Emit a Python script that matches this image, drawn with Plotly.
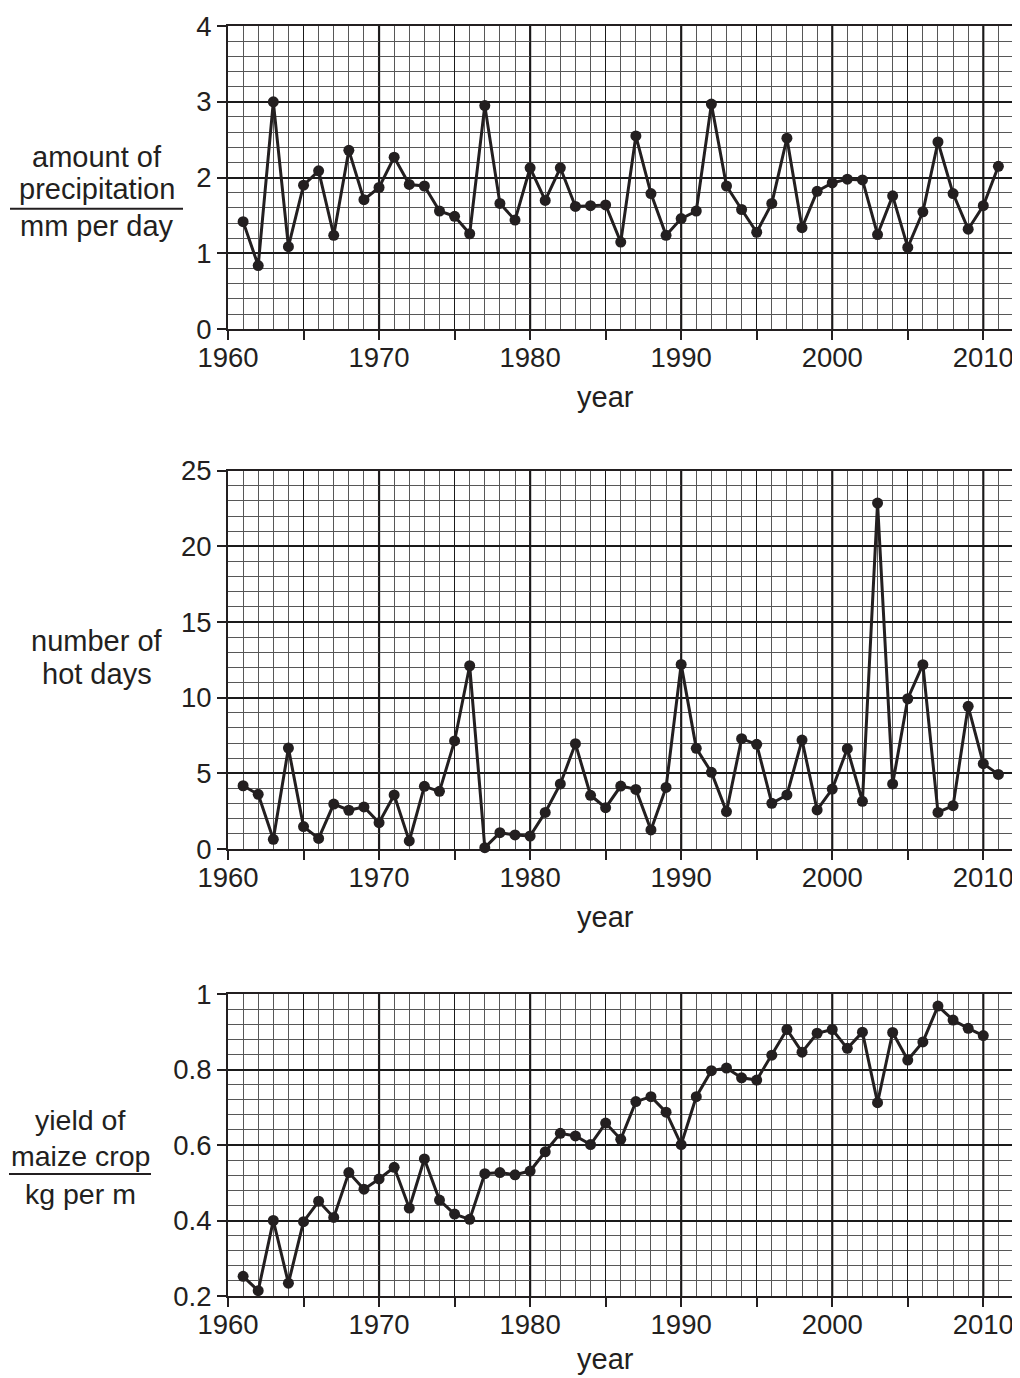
import plotly.graph_objects as go

years = list(range(1961, 2012))
precip = [1.42, 0.84, 3.00, 1.09, 1.90, 2.09, 1.24, 2.36, 1.71, 1.87,
          2.27, 1.91, 1.89, 1.56, 1.49, 1.26, 2.95, 1.66, 1.44, 2.13,
          1.70, 2.13, 1.62, 1.63, 1.64, 1.15, 2.55, 1.79, 1.24, 1.46,
          1.56, 2.97, 1.89, 1.58, 1.28, 1.66, 2.52, 1.34, 1.82, 1.93,
          1.98, 1.97, 1.25, 1.76, 1.08, 1.55, 2.47, 1.79, 1.32, 1.63, 2.15]
hot_days = [4.18, 3.61, 0.64, 6.67, 1.48, 0.70, 2.97, 2.56, 2.78, 1.74,
            3.57, 0.53, 4.14, 3.81, 7.14, 12.11, 0.09, 1.08, 0.93, 0.86,
            2.42, 4.30, 6.96, 3.55, 2.73, 4.16, 3.94, 1.26, 4.07, 12.20,
            6.65, 5.07, 2.47, 7.29, 6.92, 3.02, 3.57, 7.20, 2.58, 3.96,
            6.63, 3.15, 22.86, 4.30, 9.93, 12.18, 2.42, 2.86, 9.43, 5.64, 4.93]
years_yield = list(range(1961, 2011))
maize_yield = [0.252, 0.214, 0.400, 0.234, 0.397, 0.451, 0.408, 0.527, 0.483, 0.510,
               0.541, 0.433, 0.563, 0.454, 0.417, 0.403, 0.524, 0.527, 0.521, 0.531,
               0.582, 0.631, 0.624, 0.601, 0.658, 0.615, 0.715, 0.728, 0.687, 0.601,
               0.728, 0.797, 0.804, 0.778, 0.772, 0.838, 0.906, 0.846, 0.896, 0.906,
               0.856, 0.899, 0.712, 0.898, 0.825, 0.873, 0.968, 0.931, 0.909, 0.890]

x_ticks = list(range(1960, 2013, 5))
x_ticktext = [str(v) if v % 10 == 0 else "" for v in x_ticks]

# page body has an 8px margin: the figure is offset by it inside the window
OFF = 8
W, H = 1020 - OFF, 1378 - OFF
INK = "#231f20"
FONT = "Liberation Sans, Arial, sans-serif"
TICK_SIZE = 27.5
LABEL_SIZE = 29

def px_x(x):
    return (x - OFF) / W

def px_y(y):
    return 1 - (y - OFF) / H

x_dom = [px_x(228), px_x(1013.5)]
panels = [
    dict(y=precip, x=years, top=26, bot=329.3, rng=[0, 4], ytv=[0, 1, 2, 3, 4],
         ytt=["0", "1", "2", "3", "4"], minor=0.2, title_gap=68),
    dict(y=hot_days, x=years, top=470.7, bot=849, rng=[0, 25], ytv=[0, 5, 10, 15, 20, 25],
         ytt=["0", "5", "10", "15", "20", "25"], minor=1, title_gap=68),
    dict(y=maize_yield, x=years_yield, top=994, bot=1296, rng=[0.2, 1.0],
         ytv=[0.2, 0.4, 0.6, 0.8, 1.0], ytt=["0.2", "0.4", "0.6", "0.8", "1"], minor=0.04,
         title_gap=63),
]

fig = go.Figure()
layout = dict(
    width=W, height=H, margin=dict(l=0, r=0, t=0, b=0, autoexpand=False),
    paper_bgcolor="white", plot_bgcolor="white", showlegend=False,
    font=dict(family=FONT, color=INK, size=TICK_SIZE),
)
shapes = []
annotations = []

for i, p in enumerate(panels, start=1):
    xa = "x" if i == 1 else f"x{i}"
    ya = "y" if i == 1 else f"y{i}"
    fig.add_trace(go.Scatter(
        x=p["x"], y=p["y"], mode="lines+markers", xaxis=xa, yaxis=ya,
        line=dict(color=INK, width=3), marker=dict(color=INK, size=11),
        cliponaxis=False, hoverinfo="skip"))
    layout[f"xaxis{'' if i == 1 else i}"] = dict(
        domain=x_dom, anchor=ya, range=[1960, 2012], automargin=False,
        tickmode="array", tickvals=x_ticks, ticktext=x_ticktext,
        ticks="outside", ticklen=9, tickwidth=2, tickcolor=INK, ticklabelstandoff=-6,
        showline=True, linecolor=INK, linewidth=2, mirror=True,
        showgrid=True, gridcolor="#1a1a1a", gridwidth=1.2,
        minor=dict(dtick=1, tick0=1960, showgrid=True, gridcolor="#575757", gridwidth=1.1, ticks=""),
        zeroline=False, tickfont=dict(size=TICK_SIZE, family=FONT, color=INK),
        fixedrange=True)
    layout[f"yaxis{'' if i == 1 else i}"] = dict(
        domain=[px_y(p["bot"]), px_y(p["top"])], anchor=xa, range=p["rng"], automargin=False,
        tickmode="array", tickvals=p["ytv"], ticktext=p["ytt"],
        ticks="outside", ticklen=9, tickwidth=2, tickcolor=INK,
        showline=True, linecolor=INK, linewidth=2, mirror=True,
        showgrid=True, gridcolor="#1a1a1a", gridwidth=2,
        minor=dict(dtick=p["minor"], tick0=p["rng"][0], showgrid=True, gridcolor="#575757", gridwidth=1.1, ticks=""),
        zeroline=False, tickfont=dict(size=TICK_SIZE, family=FONT, color=INK),
        fixedrange=True)
    for d in range(1970, 2011, 10):
        shapes.append(dict(type="line", xref=xa, yref=f"{ya} domain", x0=d, x1=d, y0=0, y1=1,
                           line=dict(color=INK, width=2.2), layer="below"))
    annotations.append(dict(text="year", xref=xa, yref="paper", x=1985,
                            y=px_y(p["bot"] + p["title_gap"]),
                            showarrow=False, xanchor="center", yanchor="middle",
                            font=dict(size=LABEL_SIZE, family=FONT, color=INK)))

def label(text, x, y, size=LABEL_SIZE):
    annotations.append(dict(text=text, xref="paper", yref="paper", x=px_x(x), y=px_y(y),
                            showarrow=False, xanchor="center", yanchor="middle",
                            font=dict(size=size, family=FONT, color=INK)))

def bar(x0, x1, y):
    shapes.append(dict(type="line", xref="paper", yref="paper", x0=px_x(x0), x1=px_x(x1),
                       y0=px_y(y), y1=px_y(y), line=dict(color=INK, width=2)))

label("amount of", 97, 157)
label("precipitation", 97, 189)
bar(10, 183, 208.7)
label("mm per day", 97, 226)

label("number of", 97, 641)
label("hot days", 97, 674)

label("yield of", 80, 1120, 28.5)
label("maize crop", 80, 1156, 28.5)
bar(9, 151, 1174)
label("kg per m", 80, 1194, 28.5)

layout["shapes"] = shapes
layout["annotations"] = annotations
fig.update_layout(**layout)
fig.write_html("out.html")
